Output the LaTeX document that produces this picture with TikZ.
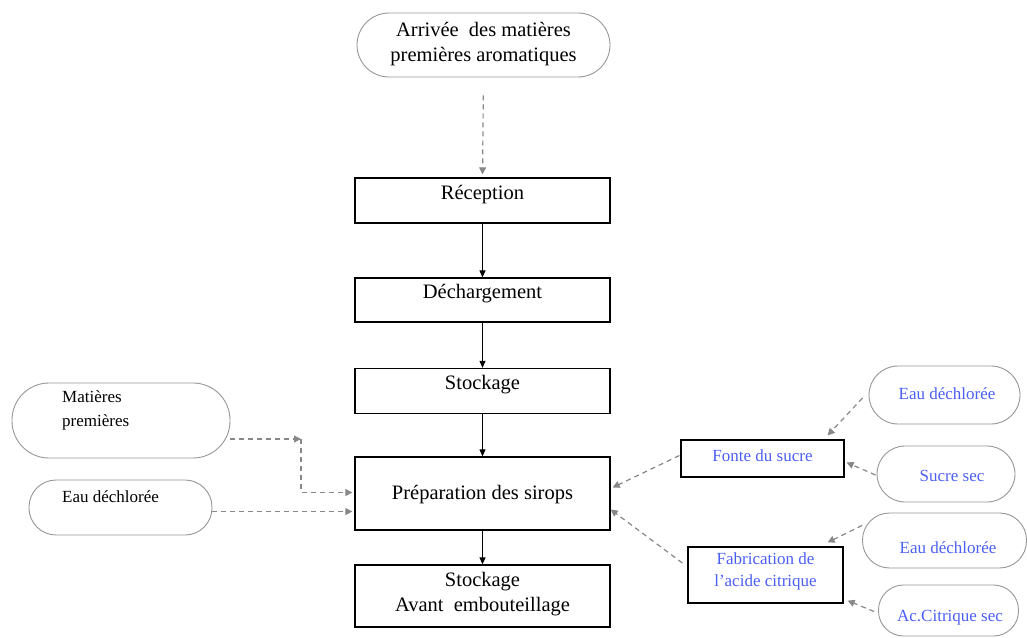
\documentclass[tikz,border=0pt]{standalone}
\usepackage{fontspec}
\setmainfont{Liberation Serif}
\usetikzlibrary{arrows.meta,calc}
\definecolor{dashgray}{RGB}{135,135,135}
\definecolor{stadgray}{RGB}{150,150,150}
\definecolor{txtblue}{RGB}{75,95,245}
\tikzset{
  box/.style={draw=black, line width=1.3pt, rectangle, minimum width=255pt, inner sep=0pt},
  sidebox/.style={draw=black, line width=1.2pt, rectangle, inner sep=0pt},
  stad/.style={draw=stadgray, line width=0.9pt, rectangle, inner sep=0pt},
  maintxt/.style={font=\fontsize{20.5}{24.5}\selectfont, align=center, inner sep=0pt},
  sidetxt/.style={font=\fontsize{17}{24}\selectfont, inner sep=0pt},
  bluetxt/.style={sidetxt, text=txtblue, align=center},
  solidarr/.style={draw=black, line width=1.1pt, -{Triangle[length=7pt,width=6pt]}},
  dasharr/.style={draw=dashgray, line width=1.2pt, dash pattern=on 5pt off 4pt, -{Triangle[length=7pt,width=7pt]}}
}
\begin{document}
\begin{tikzpicture}[x=1pt,y=-1pt]
\useasboundingbox (0,0) rectangle (1027,637);

% top stadium
\node[stad, minimum width=253pt, minimum height=64pt, rounded corners=32pt] (arr) at (483.5,45) {};
\node[maintxt] (arrt) at (483.5,44) {Arrivée\ \ des matières\\premières aromatiques};

% main boxes
\node[box, minimum height=45pt] (rec) at (482.5,200.5) {};
\node[maintxt] (rect) at (482.5,195) {Réception};
\node[box, minimum height=44pt] (dec) at (482.5,300) {};
\node[maintxt] (dect) at (482.5,294) {Déchargement};
\node[box, minimum height=45pt] (sto) at (482.5,391) {};
\node[maintxt] (stot) at (482.5,385) {Stockage};
\node[box, minimum height=73pt] (pre) at (482.5,493.5) {};
\node[maintxt] (pret) at (482.5,495) {Préparation des sirops};
\node[box, minimum height=62pt] (sav) at (482.5,596) {};
\node[maintxt] (savt) at (482.5,594) {Stockage\\Avant\ \ embouteillage};

% main arrows
\draw[dasharr, shorten <=18pt, shorten >=3pt] (arr.south) -- (rec.north);
\draw[solidarr] (rec.south) -- (dec.north);
\draw[solidarr] (dec.south) -- (sto.north);
\draw[solidarr] (sto.south) -- (pre.north);
\draw[solidarr] (pre.south) -- (sav.north);

% left side
\node[stad, minimum width=218pt, minimum height=75pt, rounded corners=37pt] (mp) at (121,420.5) {};
\node[sidetxt, anchor=west, align=left] (mpt) at (62,410) {Matières\\premières};
\node[stad, minimum width=183pt, minimum height=55pt, rounded corners=27pt] (eau) at (120.5,507.5) {};
\node[sidetxt, anchor=west] (eaut) at (62,497) {Eau déchlorée};

\coordinate (mpc) at (301,439);
\draw[dasharr] ($(mp.east)+(0,18.5)$) -- (mpc);
\draw[dasharr] (mpc) |- ($(pre.west)+(-2,-1)$);
\draw[dasharr] ($(eau.east)+(0,4)$) -- ($(pre.west)+(-2,18)$);

% right side
\node[sidebox, minimum width=163pt, minimum height=37pt] (fon) at (762.5,458.5) {};
\node[bluetxt] (font) at (762.5,456) {Fonte du sucre};
\node[sidebox, minimum width=155pt, minimum height=56pt] (fab) at (765.5,575) {};
\node[bluetxt, font=\fontsize{17}{22}\selectfont] (fabt) at (765.5,571) {Fabrication de\\l’acide citrique};

\node[stad, minimum width=151pt, minimum height=58pt, rounded corners=29pt] (ed1) at (944.5,395) {};
\node[bluetxt] (ed1t) at (947,394) {Eau déchlorée};
\node[stad, minimum width=138pt, minimum height=56pt, rounded corners=28pt] (ss) at (946,474) {};
\node[bluetxt] (sst) at (952,476) {Sucre sec};
\node[stad, minimum width=164pt, minimum height=55pt, rounded corners=27pt] (ed2) at (944.5,540.5) {};
\node[bluetxt] (ed2t) at (948,548) {Eau déchlorée};
\node[stad, minimum width=140pt, minimum height=51pt, rounded corners=25pt] (ac) at (948.5,610.5) {};
\node[bluetxt] (act) at (950,618) {Ac.Citrique sec};

\draw[dasharr] ($(ed1.west)+(-6,3)$) -- ($(fon.north east)+(-17,-4)$);
\draw[dasharr] ($(ss.west)+(-1,1)$) -- ($(fon.east)+(2,4)$);
\draw[dasharr] ($(fon.west)+(-1,-3)$) -- ($(pre.east)+(2,-6)$);
\draw[dasharr] ($(ed2.west)+(0,-15)$) -- ($(fab.north east)+(-16,-4)$);
\draw[dasharr] ($(ac.west)+(-4,1)$) -- ($(fab.south east)+(4,-3)$);
\draw[dasharr] ($(fab.west)+(-5,-12)$) -- ($(pre.east)+(0,16)$);
\end{tikzpicture}
\end{document}
